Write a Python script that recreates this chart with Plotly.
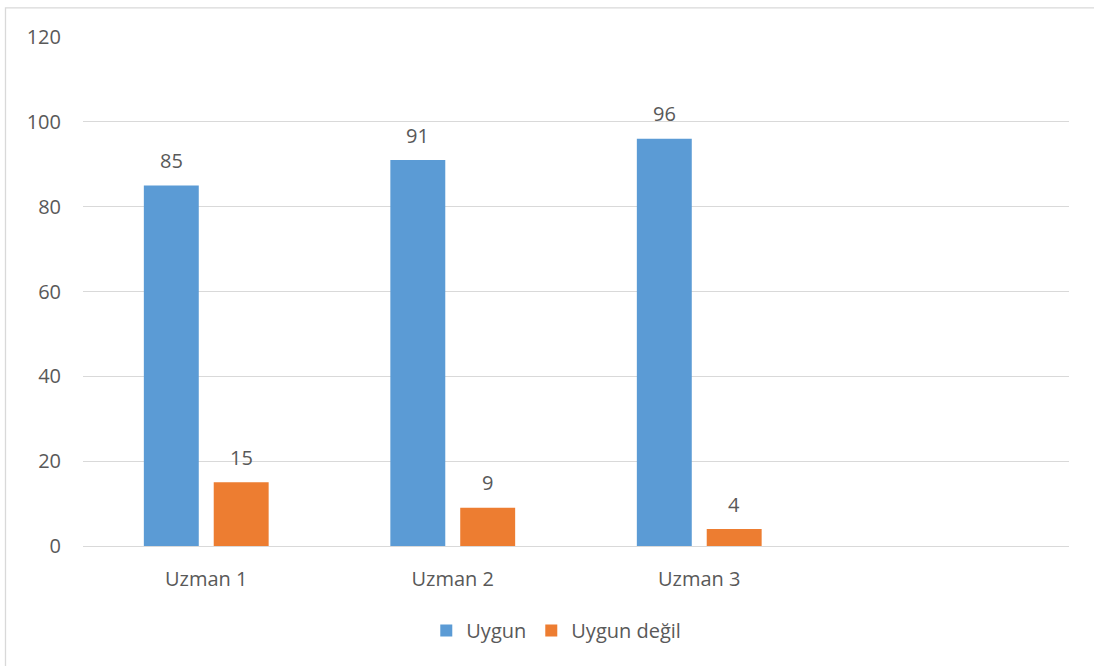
import plotly.graph_objects as go

categories = ["Uzman 1", "Uzman 2", "Uzman 3"]
all_slots = ["Uzman 1", "Uzman 2", "Uzman 3", "slot4"]
uygun = [85, 91, 96]
uygun_degil = [15, 9, 4]
y_ticks = [0, 20, 40, 60, 80, 100, 120]

BLUE = "#5B9BD5"
ORANGE = "#ED7D31"
TXT = "#595959"
GRID = "#D9D9D9"
FONT = "Open Sans"
FS = 20

fig = go.Figure()
fig.add_trace(go.Bar(name="Uygun", x=categories, y=uygun, marker_color=BLUE, marker_line_width=0))
fig.add_trace(go.Bar(name="Uygun değil", x=categories, y=uygun_degil, marker_color=ORANGE, marker_line_width=0))

for vals, shift in ((uygun, -35), (uygun_degil, 35)):
    for c, v in zip(categories, vals):
        fig.add_annotation(x=c, y=v, xref="x", yref="y", text=str(v), showarrow=False,
                           xshift=shift, yshift=25, yanchor="middle",
                           font=dict(family=FONT, size=FS, color=TXT))

fig.add_shape(type="rect", xref="paper", yref="paper", layer="below",
              x0=-0.0786, x1=1.2, y0=-0.5, y1=1.0573,
              line=dict(color=GRID, width=1.3), fillcolor="rgba(0,0,0,0)")

fig.update_layout(
    width=1094, height=666,
    margin=dict(l=83, r=25, t=37, b=120),
    paper_bgcolor="white", plot_bgcolor="white",
    barmode="group", bargap=0.433, bargroupgap=0.214,
    font=dict(family=FONT, size=FS, color=TXT),
    showlegend=True,
    legend=dict(orientation="h", x=0.48, xanchor="center", y=-0.166, yanchor="middle",
                font=dict(family=FONT, size=FS, color=TXT), itemwidth=30, traceorder="normal"),
)
fig.update_xaxes(type="category", categoryorder="array", categoryarray=all_slots,
                 range=[-0.5, 3.5], tickvals=categories, ticktext=categories,
                 showgrid=False, showline=False, zeroline=False,
                 ticks="outside", ticklen=15, tickcolor="rgba(0,0,0,0)",
                 tickfont=dict(family=FONT, size=FS, color=TXT))
fig.update_yaxes(range=[0, 120], tickvals=y_ticks, showgrid=True, gridcolor=GRID, gridwidth=1.3,
                 zeroline=True, zerolinecolor=GRID, zerolinewidth=1.3, showline=False,
                 ticks="outside", ticklen=17, tickcolor="rgba(0,0,0,0)",
                 tickfont=dict(family=FONT, size=FS, color=TXT))

fig.write_html("out.html")
